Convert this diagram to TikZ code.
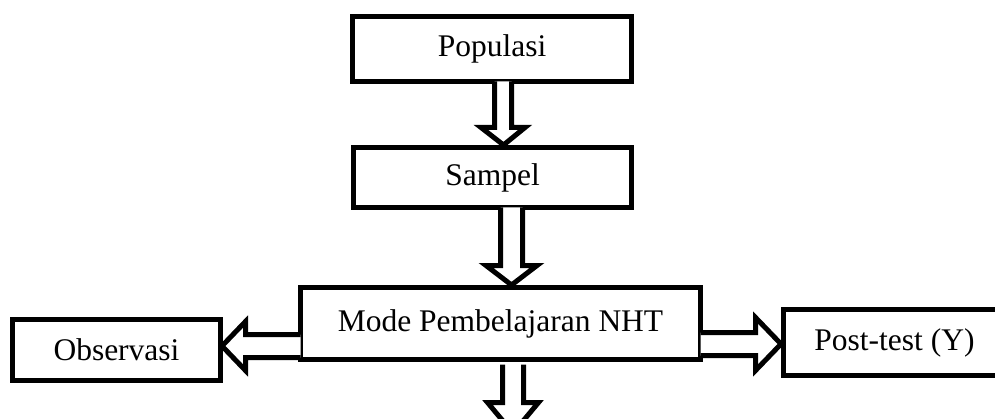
\documentclass[tikz,border=0pt]{standalone}
\usepackage{fontspec}
\setmainfont{Liberation Serif}
\usetikzlibrary{calc}
\begin{document}
\begin{tikzpicture}[x=1pt,y=1pt,
  box/.style={draw=black, line width=5pt, fill=white, inner sep=0pt,
    font=\fontsize{31.5}{36}\selectfont},
  hollow/.style={draw=black, line width=5pt, line join=miter, fill=white}]
\useasboundingbox (0,0) rectangle (995,418);
\begin{scope}
\clip (0,0) rectangle (995,418);
% boxes
\node[box, minimum width=279pt, minimum height=65pt] (pop) at (492,369) {Populasi};
\node[box, minimum width=278pt, minimum height=60pt] (sam) at (492.5,240.5) {Sampel};
\node[box, minimum width=400pt, minimum height=72pt] (mode) at (500.5,94.5) {Mode Pembelajaran NHT};
\node[box, minimum width=208pt, minimum height=61pt] (obs) at (116.5,68) {Observasi};
\node[box, minimum width=222pt, minimum height=66pt] (post) at (894.5,75.5) {Post-test (Y)};
% arrow 1: Populasi -> Sampel
\path let \p1=($(pop.south)+(11pt,2.5pt)$), \p2=($(sam.north)+(11pt,0)$) in
  [hollow] (\x1-8.5,\y1) -- (\x1-8.5,290.5) -- (\x1-22,290.5) -- (\x2,\y2)
  -- (\x1+22,290.5) -- (\x1+8.5,290.5) -- (\x1+8.5,\y1);
% arrow 2: Sampel -> Mode
\path let \p1=($(sam.south)+(19pt,2.5pt)$), \p2=($(mode.north)+(11pt,0)$) in
  [hollow] (\x1-11,\y1) -- (\x1-11,152.5) -- (\x1-25.5,152.5) -- (\x2,\y2)
  -- (\x1+25.5,152.5) -- (\x1+11,152.5) -- (\x1+11,\y1);
% arrow 3: Mode -> down (free end)
\coordinate (downend) at (513,-15);
\path let \p1=($(mode.south)+(12.5pt,-2.5pt)$), \p2=(downend) in
  [hollow] (\x1-10.5,\y1) -- (\x1-10.5,15.5) -- (\x1-25.5,15.5) -- (\x2,\y2)
  -- (\x1+25.5,15.5) -- (\x1+10.5,15.5) -- (\x1+10.5,\y1);
% arrow 4: Mode -> Observasi
\path let \p1=($(mode.west)+(2.5pt,-22.5pt)$), \p2=($(obs.east)+(-1pt,4pt)$) in
  [hollow] (\x1,\y1+11.5) -- (245.5,\y1+11.5) -- (245.5,\y1+24.5) -- (\x2,\y2)
  -- (245.5,\y1-24.5) -- (245.5,\y1-11.5) -- (\x1,\y1-11.5);
% arrow 5: Mode -> Post-test
\path let \p1=($(mode.east)+(-2.5pt,-20.5pt)$), \p2=($(post.west)+(0,-1.5pt)$) in
  [hollow] (\x1,\y1+11.5) -- (755.5,\y1+11.5) -- (755.5,\y1+26.5) -- (\x2,\y2)
  -- (755.5,\y1-26.5) -- (755.5,\y1-11.5) -- (\x1,\y1-11.5);
\end{scope}
\end{tikzpicture}
\end{document}
